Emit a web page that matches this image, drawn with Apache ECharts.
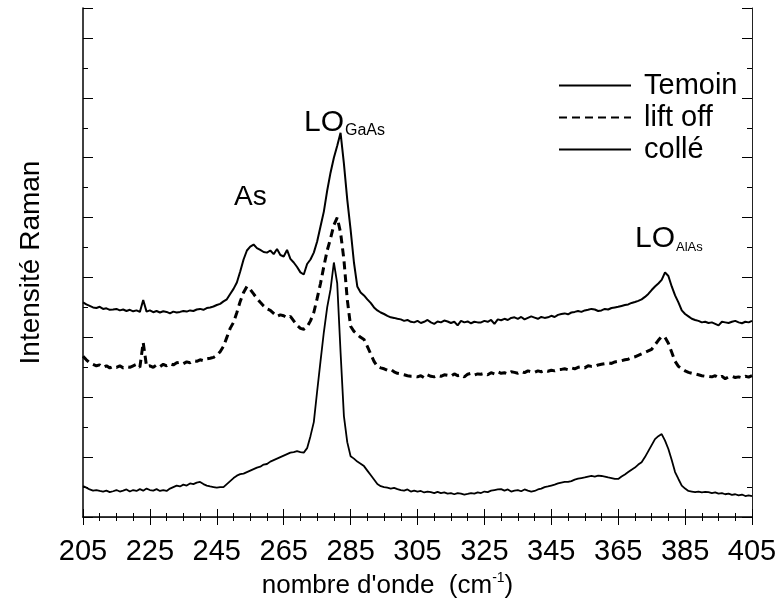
<!DOCTYPE html>
<html>
<head>
<meta charset="utf-8">
<title>Intensité Raman</title>
<script src="https://cdn.jsdelivr.net/npm/echarts@6/dist/echarts.min.js"></script>
<style>
  html, body { margin: 0; padding: 0; background: #fff; }
  #chart { width: 780px; height: 604px; }
</style>
</head>
<body>
<div id="chart"></div>
<script>
// sampling grid, cm-1 (205 .. 405, step 1)
const W_START = 205;
const W_END = 405;
const wavenumbers = [];
for (let w = W_START; w <= W_END; w++) wavenumbers.push(w);

const seriesNames = ["Temoin", "lift off", "collé"];

// Temoin, 205..405
const temoin = [
  7.17, 7.10, 7.05, 7.00, 6.98, 7.02, 6.95, 6.97, 6.92, 6.93,
  6.95, 6.90, 6.93, 6.88, 6.92, 6.87, 6.90, 6.85, 7.25, 6.86,
  6.90, 6.84, 6.88, 6.83, 6.87, 6.85, 6.80, 6.86, 6.83, 6.85,
  6.88, 6.86, 6.90, 6.88, 6.93, 6.95, 6.92, 6.98, 7.00, 7.03,
  7.08, 7.12, 7.20, 7.27, 7.45, 7.62, 7.83, 8.20, 8.60, 8.90,
  9.03, 9.10, 8.98, 8.92, 8.85, 8.83, 8.90, 8.78, 8.95, 8.75,
  8.70, 8.92, 8.62, 8.50, 8.35, 8.17, 8.10, 8.45, 8.60, 8.83,
  9.20, 9.70, 10.20, 10.90, 11.50, 12.00, 12.40, 12.83, 11.80, 10.60,
  9.60, 8.50, 7.70, 7.50, 7.40, 7.27, 7.15, 7.00, 6.90, 6.83,
  6.78, 6.72, 6.67, 6.65, 6.62, 6.60, 6.55, 6.58, 6.52, 6.50,
  6.55, 6.48, 6.52, 6.58, 6.50, 6.45, 6.53, 6.50, 6.56, 6.53,
  6.48, 6.52, 6.40, 6.55, 6.50, 6.53, 6.47, 6.52, 6.50, 6.50,
  6.55, 6.52, 6.58, 6.45, 6.60, 6.57, 6.62, 6.58, 6.65, 6.67,
  6.62, 6.68, 6.60, 6.65, 6.70, 6.66, 6.62, 6.68, 6.65, 6.67,
  6.72, 6.68, 6.75, 6.78, 6.80, 6.77, 6.83, 6.85, 6.88, 6.85,
  6.90, 6.92, 6.95, 6.93, 6.88, 6.90, 6.95, 6.93, 6.98, 7.00,
  7.02, 7.05, 7.08, 7.10, 7.15, 7.18, 7.22, 7.27, 7.35, 7.45,
  7.58, 7.70, 7.80, 7.92, 8.17, 8.05, 7.70, 7.40, 7.17, 6.90,
  6.78, 6.70, 6.62, 6.58, 6.55, 6.50, 6.52, 6.48, 6.50, 6.45,
  6.40, 6.52, 6.50, 6.48, 6.52, 6.55, 6.50, 6.47, 6.52, 6.50,
  6.55
];

// lift off, 205..405
const liftOff = [
  5.37, 5.25, 5.15, 5.10, 5.05, 5.08, 5.00, 5.05, 4.98, 5.03,
  5.00, 5.05, 4.98, 5.02, 5.00, 5.05, 5.10, 5.00, 5.83, 5.03,
  5.05, 5.00, 5.08, 5.02, 5.10, 5.05, 5.12, 5.08, 5.15, 5.17,
  5.12, 5.18, 5.15, 5.22, 5.20, 5.25, 5.22, 5.28, 5.30, 5.33,
  5.40, 5.52, 5.70, 6.00, 6.30, 6.50, 6.83, 7.20, 7.50, 7.70,
  7.60, 7.45, 7.30, 7.17, 7.05, 6.95, 6.90, 6.80, 6.70, 6.75,
  6.72, 6.65, 6.70, 6.55, 6.40, 6.30, 6.27, 6.35, 6.55, 6.83,
  7.30, 7.80, 8.37, 8.90, 9.30, 9.75, 10.00, 9.50, 8.60, 7.27,
  6.37, 6.20, 6.10, 6.00, 5.93, 5.70, 5.45, 5.20, 5.03, 4.98,
  4.95, 4.90, 4.93, 4.85, 4.80, 4.78, 4.75, 4.72, 4.70, 4.70,
  4.68, 4.72, 4.65, 4.75, 4.70, 4.68, 4.73, 4.70, 4.75, 4.73,
  4.70, 4.78, 4.72, 4.75, 4.68, 4.77, 4.80, 4.74, 4.78, 4.77,
  4.80, 4.75, 4.82, 4.78, 4.85, 4.80, 4.82, 4.78, 4.85, 4.83,
  4.80, 4.86, 4.82, 4.88, 4.85, 4.83, 4.88, 4.85, 4.90, 4.87,
  4.90, 4.88, 4.92, 4.93, 4.95, 4.92, 4.98, 4.95, 5.00, 5.02,
  4.98, 5.05, 5.03, 5.03, 5.08, 5.10, 5.12, 5.15, 5.13, 5.18,
  5.20, 5.22, 5.25, 5.27, 5.32, 5.35, 5.40, 5.45, 5.50, 5.55,
  5.60, 5.75, 5.90, 6.03, 6.00, 5.80, 5.50, 5.20, 5.03, 4.95,
  4.88, 4.83, 4.80, 4.78, 4.75, 4.72, 4.70, 4.70, 4.68, 4.72,
  4.65, 4.70, 4.62, 4.68, 4.70, 4.66, 4.68, 4.65, 4.70, 4.67,
  4.72
];

// collé, 205..405
const colle = [
  1.03, 0.98, 0.92, 0.88, 0.90, 0.87, 0.85, 0.88, 0.83, 0.86,
  0.90, 0.85, 0.88, 0.92, 0.85, 0.90, 0.87, 0.93, 0.88, 0.95,
  0.90, 0.88, 0.93, 0.87, 0.90, 0.87, 0.95, 1.00, 1.05, 1.02,
  1.08, 1.05, 1.12, 1.10, 1.15, 1.17, 1.10, 1.05, 1.02, 1.00,
  0.98, 1.00, 1.00, 1.10, 1.20, 1.30, 1.38, 1.43, 1.45, 1.50,
  1.55, 1.60, 1.65, 1.68, 1.75, 1.77, 1.85, 1.90, 1.95, 2.00,
  2.05, 2.10, 2.15, 2.17, 2.20, 2.17, 2.15, 2.30, 2.70, 3.17,
  4.20, 5.20, 6.17, 7.00, 7.60, 8.50, 7.80, 5.50, 3.37, 2.50,
  2.03, 1.95, 1.85, 1.78, 1.70, 1.55, 1.40, 1.25, 1.10, 1.03,
  1.00, 0.98, 0.95, 0.97, 0.93, 0.90, 0.88, 0.92, 0.85, 0.88,
  0.85, 0.87, 0.82, 0.85, 0.83, 0.80, 0.84, 0.80, 0.82, 0.78,
  0.80, 0.76, 0.80, 0.78, 0.75, 0.77, 0.80, 0.78, 0.82, 0.80,
  0.85, 0.83, 0.88, 0.90, 0.92, 0.93, 0.88, 0.92, 0.85, 0.88,
  0.90, 0.86, 0.92, 0.88, 0.85, 0.87, 0.92, 0.95, 1.00, 1.02,
  1.05, 1.08, 1.12, 1.15, 1.17, 1.17, 1.20, 1.25, 1.28, 1.30,
  1.32, 1.35, 1.37, 1.35, 1.38, 1.37, 1.35, 1.32, 1.30, 1.27,
  1.27, 1.35, 1.42, 1.50, 1.58, 1.65, 1.75, 1.83, 2.00, 2.20,
  2.40, 2.60, 2.70, 2.77, 2.55, 2.27, 1.90, 1.50, 1.27, 1.05,
  0.95, 0.87, 0.85, 0.83, 0.85, 0.82, 0.84, 0.83, 0.80, 0.82,
  0.78, 0.80, 0.76, 0.78, 0.74, 0.76, 0.72, 0.75, 0.70, 0.72,
  0.70
];

const FONT = "Liberation Sans, Arial, sans-serif";
const INK = "#000";

const chart = echarts.init(document.getElementById("chart"));

const pair = vals => wavenumbers.map((w, i) => [w, vals[i]]);

const xBase = {
  type: "value",
  min: W_START,
  max: W_END,
  interval: 20,
  axisLine: { lineStyle: { color: INK, width: 1.5 } },
  axisTick: { show: true, inside: true, length: 8, lineStyle: { color: INK } },
  minorTick: { show: true, splitNumber: 4, length: 4, lineStyle: { color: INK } },
  splitLine: { show: false }
};

const yBase = {
  type: "value",
  min: 0,
  max: 17,
  interval: 2,
  axisLine: { show: true, lineStyle: { color: INK, width: 1.5 } },
  axisTick: { show: true, inside: true, length: 10, lineStyle: { color: INK } },
  minorTick: { show: true, splitNumber: 2, length: 5, lineStyle: { color: INK } },
  axisLabel: { show: false },
  splitLine: { show: false }
};

const option = {
  backgroundColor: "#fff",
  animation: false,
  textStyle: { fontFamily: FONT, color: INK },
  grid: { left: 83, right: 28, top: 8, bottom: 86, containLabel: false },
  legend: {
    data: seriesNames,
    orient: "vertical",
    left: 553,
    top: 66,
    itemWidth: 72,
    itemHeight: 12,
    itemGap: 3,
    itemStyle: { opacity: 0 },
    textStyle: { fontFamily: FONT, fontSize: 29, color: INK, padding: [0, 0, 0, 8] }
  },
  xAxis: [
    Object.assign({}, xBase, {
      position: "bottom",
      name: "nombre d'onde  (cm{sup|-1})",
      nameLocation: "middle",
      nameGap: 54,
      nameTextStyle: {
        fontFamily: FONT, fontSize: 26, color: INK, padding: [0, 60, 0, 0],
        rich: { sup: { fontFamily: FONT, fontSize: 14, color: INK, padding: [0, 0, 16, 0] } }
      },
      axisLabel: { fontFamily: FONT, fontSize: 29, color: INK, margin: 20 }
    }),
    Object.assign({}, xBase, {
      position: "top",
      axisLine: { lineStyle: { color: "#222", width: 1 } },
      axisLabel: { show: false }
    })
  ],
  yAxis: [
    Object.assign({}, yBase, {
      position: "left",
      name: "Intensité Raman",
      nameLocation: "middle",
      nameGap: 38,
      nameRotate: 90,
      nameTextStyle: { fontFamily: FONT, fontSize: 28, color: INK }
    }),
    Object.assign({}, yBase, {
      position: "right",
      axisLine: { show: true, lineStyle: { color: "#222", width: 1 } }
    })
  ],
  series: [
    {
      name: seriesNames[0], type: "line", symbol: "none",
      lineStyle: { color: INK, width: 2 }, itemStyle: { color: INK },
      data: pair(temoin)
    },
    {
      name: seriesNames[1], type: "line", symbol: "none",
      lineStyle: { color: INK, width: 3, type: [8, 5] }, itemStyle: { color: INK },
      data: pair(liftOff)
    },
    {
      name: seriesNames[2], type: "line", symbol: "none",
      lineStyle: { color: INK, width: 1.8 }, itemStyle: { color: INK },
      data: pair(colle)
    }
  ],
  graphic: [
    {
      type: "text", left: 234, top: 183,
      style: { text: "As", font: "28px " + FONT, fill: INK }
    },
    {
      type: "text", left: 304, top: 108,
      style: {
        text: "{b|LO}{s|GaAs}",
        fill: INK,
        rich: {
          b: { fontFamily: FONT, fontSize: 30, fill: INK },
          s: { fontFamily: FONT, fontSize: 16, fill: INK, padding: [16, 0, 0, 1] }
        }
      }
    },
    {
      type: "text", left: 635, top: 224,
      style: {
        text: "{b|LO}{s|AlAs}",
        fill: INK,
        rich: {
          b: { fontFamily: FONT, fontSize: 30, fill: INK },
          s: { fontFamily: FONT, fontSize: 13, fill: INK, padding: [16, 0, 0, 1] }
        }
      }
    }
  ]
};

chart.setOption(option);
</script>
</body>
</html>
